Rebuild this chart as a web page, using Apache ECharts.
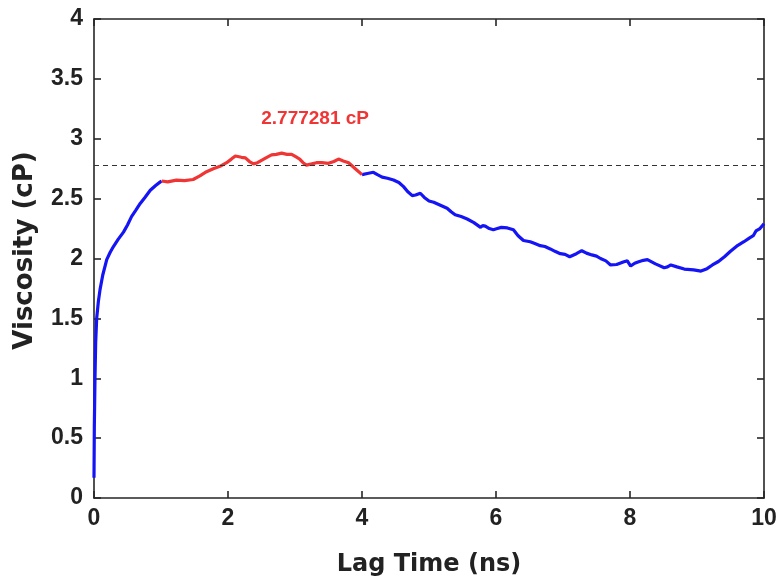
<!DOCTYPE html>
<html>
<head>
<meta charset="utf-8">
<script src="https://cdn.jsdelivr.net/npm/echarts@6/dist/echarts.min.js"></script>
<style>html,body{margin:0;padding:0;background:#fff}#c{width:779px;height:577px}</style>
</head>
<body>
<div id="c"></div>
<script>
const lagTimes = [0,0.005,0.015,0.025,0.04,0.065,0.09,0.13,0.19,0.24,0.29,0.36,0.44,0.5,0.56,0.62,0.69,0.76,0.84,0.92,0.99,
1.01,1.1,1.23,1.35,1.48,1.58,1.68,1.78,1.88,1.98,2.05,2.11,2.2,2.26,2.32,2.38,2.44,2.5,2.58,2.65,2.72,2.8,2.88,2.95,3.01,3.07,3.12,3.17,3.25,3.32,3.4,3.5,3.58,3.65,3.72,3.8,3.9,4.0,
4.08,4.17,4.23,4.3,4.38,4.47,4.55,4.62,4.68,4.75,4.8,4.87,4.93,5.0,5.07,5.17,5.27,5.33,5.39,5.48,5.57,5.67,5.77,5.8,5.84,5.9,5.96,6.02,6.08,6.17,6.26,6.33,6.41,6.51,6.58,6.66,6.73,6.81,6.88,6.96,7.03,7.1,7.2,7.28,7.35,7.43,7.5,7.56,7.64,7.71,7.8,7.91,7.96,8.01,8.07,8.13,8.2,8.26,8.38,8.51,8.56,8.61,8.7,8.81,8.95,9.06,9.15,9.23,9.32,9.41,9.5,9.61,9.7,9.78,9.84,9.88,9.94,10.0];
const viscosity = [0.17,0.6,1.01,1.3,1.5,1.64,1.74,1.86,1.99,2.05,2.10,2.16,2.22,2.28,2.35,2.40,2.46,2.51,2.57,2.61,2.64,
2.647,2.64,2.655,2.65,2.66,2.69,2.725,2.75,2.77,2.80,2.83,2.856,2.845,2.84,2.81,2.79,2.80,2.82,2.845,2.865,2.87,2.88,2.87,2.87,2.85,2.83,2.80,2.78,2.79,2.80,2.80,2.795,2.81,2.83,2.815,2.80,2.75,2.70,
2.71,2.72,2.70,2.68,2.67,2.655,2.635,2.60,2.56,2.525,2.53,2.545,2.51,2.48,2.47,2.445,2.42,2.39,2.365,2.35,2.33,2.30,2.26,2.275,2.27,2.25,2.24,2.25,2.26,2.255,2.24,2.19,2.15,2.14,2.125,2.107,2.10,2.08,2.06,2.04,2.035,2.015,2.04,2.065,2.045,2.03,2.02,2.00,1.98,1.946,1.95,1.973,1.98,1.937,1.96,1.973,1.985,1.99,1.955,1.923,1.93,1.946,1.93,1.912,1.905,1.895,1.915,1.946,1.975,2.015,2.06,2.11,2.14,2.17,2.19,2.23,2.25,2.29];
const avgStart = 1.0;
const avgEnd = 4.0;
const avgViscosity = 2.777281;
const avgLabel = '2.777281 cP';
const xTicks = [0,2,4,6,8,10];
const yTicks = [0,0.5,1,1.5,2,2.5,3,3.5,4];

const allData = lagTimes.map((t,i)=>[t,viscosity[i]]);
const redData = allData.filter(d=>d[0]>=avgStart && d[0]<=avgEnd);
const blueA = allData.filter(d=>d[0]<=avgStart+0.011);
const blueB = allData.filter(d=>d[0]>=avgEnd);

const axisCol = '#262626';
const tickFont = {fontFamily:'Liberation Sans, Arial, sans-serif', fontWeight:'bold', fontSize:23, color:'#222'};
const chart = echarts.init(document.getElementById('c'), null, {renderer:'canvas'});
chart.setOption({
  animation:false,
  backgroundColor:'#fff',
  grid:{left:94, right:15, top:19, bottom:79, containLabel:false, outerBoundsMode:'none'},
  xAxis:[{
    type:'value', min:0, max:10, interval:2, position:'bottom',
    name:'Lag Time (ns)', nameLocation:'middle', nameGap:55,
    nameTextStyle:{fontFamily:'DejaVu Sans, sans-serif', fontWeight:'bold', fontSize:24, color:'#222'},
    axisLine:{show:true, onZero:false, lineStyle:{color:axisCol, width:1.6}},
    axisTick:{show:true, inside:true, length:7, lineStyle:{color:axisCol, width:1.6}},
    axisLabel:Object.assign({margin:9, formatter:v=>xTicks.includes(v)?String(v):''}, tickFont),
    splitLine:{show:false}
  },{
    type:'value', min:0, max:10, interval:2, position:'top',
    axisLine:{show:true, onZero:false, lineStyle:{color:axisCol, width:1.6}},
    axisTick:{show:true, inside:true, length:7, lineStyle:{color:axisCol, width:1.6}},
    axisLabel:{show:false}, splitLine:{show:false}
  }],
  yAxis:[{
    type:'value', min:0, max:4, interval:0.5, position:'left',
    name:'Viscosity (cP)', nameLocation:'middle', nameGap:56, nameRotate:90,
    nameTextStyle:{fontFamily:'DejaVu Sans, sans-serif', fontWeight:'bold', fontSize:26, color:'#222', padding:[0,0,0,16]},
    axisLine:{show:true, onZero:false, lineStyle:{color:axisCol, width:1.6}},
    axisTick:{show:true, inside:true, length:7, lineStyle:{color:axisCol, width:1.6}},
    axisLabel:Object.assign({margin:11, formatter:v=>yTicks.includes(v)?String(v):''}, tickFont),
    splitLine:{show:false}
  },{
    type:'value', min:0, max:4, interval:0.5, position:'right',
    axisLine:{show:true, onZero:false, lineStyle:{color:axisCol, width:1.6}},
    axisTick:{show:true, inside:true, length:7, lineStyle:{color:axisCol, width:1.6}},
    axisLabel:{show:false}, splitLine:{show:false}
  }],
  series:[
    {type:'line', name:'blue1', data:blueA, showSymbol:false, symbol:'none', lineStyle:{color:'#1414f5', width:3.2}, z:3},
    {type:'line', name:'blue2', data:blueB, showSymbol:false, symbol:'none', lineStyle:{color:'#1414f5', width:3.2}, z:3},
    {type:'line', name:'red', data:redData, showSymbol:false, symbol:'none', lineStyle:{color:'#f03535', width:3.2}, z:4,
      markLine:{silent:true, symbol:'none', label:{show:false},
        lineStyle:{color:'#333', type:[5,4], width:1.2},
        data:[[{coord:[0,avgViscosity]},{coord:[10,avgViscosity]}]]},
      markPoint:{silent:true, symbol:'circle', symbolSize:0,
        label:{show:true, position:'inside', formatter:avgLabel, color:'#f03535', fontFamily:'Liberation Sans, Arial, sans-serif', fontWeight:'bold', fontSize:19},
        data:[{coord:[3.3,3.17]}]}
    }
  ]
});
</script>
</body>
</html>
